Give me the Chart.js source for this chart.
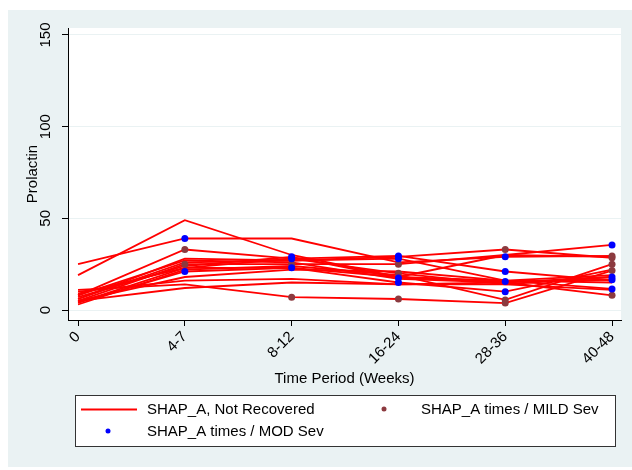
<!DOCTYPE html>
<html>
<head>
<meta charset="utf-8">
<script src="https://cdn.jsdelivr.net/npm/chart.js@4/dist/chart.umd.min.js"></script>
<style>
  html, body { margin: 0; padding: 0; background: #fff; }
  #wrap { width: 632px; height: 470px; }
</style>
</head>
<body>
<div id="wrap"><canvas id="prolChart" width="632" height="470"></canvas></div>
<script>
const periods = ['0', '4-7', '8-12', '16-24', '28-36', '40-48'];
const yTicks = [0, 50, 100, 150];

// one row per subject, values at each time period
const notRecovered = [
  [25, 39, 39, 26, 29, 29.5],
  [19, 49, 30, 18, 16, 11.5],
  [8, 33, 28, 20, 14, 18],
  [6, 28, 27, 29, 33, 28.5],
  [5, 25, 25, 25, 30, 35.5],
  [4, 21, 23, 15, 10, 22],
  [7, 24, 29, 17.5, 15.5, 16.5],
  [9, 23, 28, 29.5, 21, 16],
  [3, 22, 24, 19, 5.5, 25],
  [10, 16, 17, 14, 14, 11],
  [11, 14, 7, 6, 3.8, 21.5],
  [5, 12, 15, 14, 15, 8],
  [6, 26, 27, 28, 16, 19],
  [4, 23, 23, 18, 30, 29],
  [8, 27, 26, 17, 15, 18],
  [5, 18, 22, 21, 16, 15]
];

// marked visits, MILD severity
const mildPeriod = [1, 1, 2, 2, 3, 3, 3, 4, 4, 4, 5, 5, 5, 5, 5];
const mildValue  = [33, 25, 25, 7, 25, 20, 6, 33, 5.5, 3.8, 29.5, 28.5, 25, 21.5, 8];

// marked visits, MOD severity
const modPeriod = [1, 1, 2, 2, 2, 3, 3, 3, 3, 4, 4, 4, 4, 5, 5, 5, 5];
const modValue  = [39, 21, 29, 28, 23, 29.5, 28, 17.5, 15, 29, 21, 15.5, 10, 35.5, 18, 16.5, 11.5];

const FONT = "'Liberation Sans', Arial, sans-serif";
const RED = '#ff0000';
const MAROON = '#8c3a3f';
const BLUE = '#0000ff';
const PANEL = '#eaf2f3';

const datasets = [];
datasets.push({
  type: 'scatter',
  label: 'SHAP_A times / MOD Sev',
  data: modPeriod.map((p, i) => ({ x: p, y: modValue[i] })),
  backgroundColor: BLUE, borderColor: BLUE,
  pointRadius: 3.5, borderWidth: 0, order: 0
});
datasets.push({
  type: 'scatter',
  label: 'SHAP_A times / MILD Sev',
  data: mildPeriod.map((p, i) => ({ x: p, y: mildValue[i] })),
  backgroundColor: MAROON, borderColor: MAROON,
  pointRadius: 3.5, borderWidth: 0, order: 0
});
notRecovered.forEach((row, k) => {
  datasets.push({
    type: 'line',
    label: k === 0 ? 'SHAP_A, Not Recovered' : '',
    data: row.map((v, i) => ({ x: i, y: v })),
    borderColor: RED, borderWidth: 1.8,
    pointRadius: 0, fill: false, tension: 0, order: 1
  });
});

const panelBg = {
  id: 'panelBg',
  beforeDraw(chart) {
    const { ctx, chartArea: a } = chart;
    ctx.save();
    ctx.fillStyle = '#fff';
    ctx.fillRect(0, 0, chart.width, chart.height);
    ctx.fillStyle = PANEL;
    ctx.fillRect(8, 10, 624, 457);
    ctx.fillStyle = '#fff';
    ctx.fillRect(a.left, a.top, a.right - a.left, a.bottom - a.top);
    ctx.restore();
  }
};

// legend box like the stata one
const legendBox = {
  id: 'legendBox',
  afterDraw(chart) {
    const ctx = chart.ctx;
    ctx.save();
    ctx.fillStyle = '#fff';
    ctx.fillRect(75.5, 395.5, 540, 51);
    ctx.strokeStyle = '#333';
    ctx.lineWidth = 1;
    ctx.strokeRect(75.5, 395.5, 540, 51);

    ctx.strokeStyle = RED;
    ctx.lineWidth = 1.8;
    ctx.beginPath();
    ctx.moveTo(81, 409.5);
    ctx.lineTo(137, 409.5);
    ctx.stroke();

    ctx.fillStyle = MAROON;
    ctx.beginPath();
    ctx.arc(384, 409, 2.5, 0, Math.PI * 2);
    ctx.fill();
    ctx.fillStyle = BLUE;
    ctx.beginPath();
    ctx.arc(108, 431, 2.5, 0, Math.PI * 2);
    ctx.fill();

    ctx.fillStyle = '#000';
    ctx.font = '15px ' + FONT;
    ctx.textBaseline = 'middle';
    ctx.fillText(datasets[2].label, 147, 410);
    ctx.fillText(datasets[1].label, 421, 410);
    ctx.fillText(datasets[0].label, 147, 432);
    ctx.restore();
  }
};

new Chart(document.getElementById('prolChart'), {
  data: { datasets },
  options: {
    responsive: false,
    animation: false,
    layout: { padding: { top: 28, right: 11, bottom: 82, left: 0 } },
    plugins: { legend: { display: false }, tooltip: { enabled: false } },
    scales: {
      x: {
        type: 'linear',
        min: -0.094, max: 5.084,
        afterBuildTicks: s => { s.ticks = periods.map((_, i) => ({ value: i })); },
        afterFit: s => { s.height = 68; },
        ticks: {
          minRotation: 45, maxRotation: 45, padding: 2,
          color: '#000', font: { family: FONT, size: 15 },
          callback: v => periods[v]
        },
        grid: { drawOnChartArea: false, drawTicks: true, tickLength: 6, tickColor: '#000' },
        border: { display: true, color: '#000', width: 1 },
        title: { display: true, text: 'Time Period (Weeks)', color: '#000', font: { family: FONT, size: 15 }, padding: { top: 0, bottom: 0 } }
      },
      y: {
        type: 'linear',
        min: -5.45, max: 153.8,
        afterBuildTicks: s => { s.ticks = yTicks.map(v => ({ value: v })); },
        afterFit: s => { s.width = 68; },
        ticks: {
          minRotation: 90, maxRotation: 90, crossAlign: 'center', padding: 4,
          color: '#000', font: { family: FONT, size: 15 }
        },
        grid: { color: PANEL, lineWidth: 1, drawTicks: true, tickLength: 6, tickColor: '#000' },
        border: { display: true, color: '#000', width: 1 },
        title: { display: true, text: 'Prolactin', color: '#000', font: { family: FONT, size: 15 }, padding: { top: 24, bottom: 0 } }
      }
    }
  },
  plugins: [panelBg, legendBox]
});
</script>
</body>
</html>
